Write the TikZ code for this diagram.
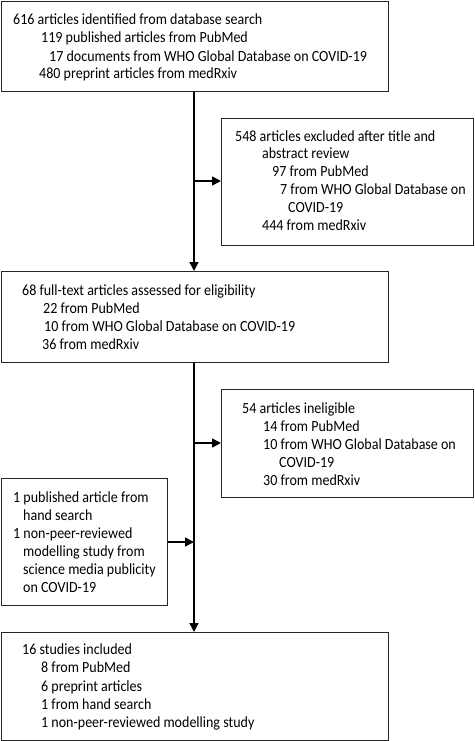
\documentclass[tikz,border=0pt]{standalone}
\usepackage{fontspec}
\setmainfont[FakeStretch=0.905]{Carlito}
\usetikzlibrary{arrows.meta}
\begin{document}
\begin{tikzpicture}[x=1pt,y=-1pt,
  box/.style={draw=black!85, line width=1.3pt, inner sep=0, anchor=north west},
  txt/.style={anchor=base west, inner sep=0, font=\fontsize{15.5}{17}\selectfont},
  conn/.style={line width=1.5pt, -{Triangle[length=9pt,width=9pt]}},
  plain/.style={line width=1.5pt}]
\useasboundingbox (0,0) rectangle (474,741);
% boxes
\node[box, minimum width=387pt, minimum height=90pt] (b1) at (1,1) {};
\node[box, minimum width=252pt, minimum height=127pt] (b2) at (221,118) {};
\node[box, minimum width=387pt, minimum height=91pt] (b3) at (1,271) {};
\node[box, minimum width=252pt, minimum height=108pt] (b4) at (221,389) {};
\node[box, minimum width=166pt, minimum height=127pt] (b5) at (1,478) {};
\node[box, minimum width=387pt, minimum height=108pt] (b6) at (1,632) {};
% texts box 1
\node[txt] (t11) at (13,25) {616 articles identified from database search};
\node[txt] (t12) at (41,43) {119 published articles from PubMed};
\node[txt] (t13) at (49,62) {17 documents from WHO Global Database on COVID-19};
\node[txt] (t14) at (39,79) {480 preprint articles from medRxiv};
% box 2
\node[txt] (t21) at (235,141) {548 articles excluded after title and};
\node[txt] (t22) at (262,158) {abstract review};
\node[txt] (t23) at (272,176) {97 from PubMed};
\node[txt] (t24) at (280,194) {7 from WHO Global Database on};
\node[txt] (t25) at (288,212) {COVID-19};
\node[txt] (t26) at (262,230) {444 from medRxiv};
% box 3
\node[txt] (t31) at (22,295) {68 full-text articles assessed for eligibility};
\node[txt] (t32) at (43,313) {22 from PubMed};
\node[txt] (t33) at (44,331) {10 from WHO Global Database on COVID-19};
\node[txt] (t34) at (42,349) {36 from medRxiv};
% box 4
\node[txt] (t41) at (242,413) {54 articles ineligible};
\node[txt] (t42) at (263,431) {14 from PubMed};
\node[txt] (t43) at (263,449) {10 from WHO Global Database on};
\node[txt] (t44) at (279,467) {COVID-19};
\node[txt] (t45) at (263,485) {30 from medRxiv};
% box 5
\node[txt] (t51) at (13,502) {1 published article from};
\node[txt] (t52) at (23,520) {hand search};
\node[txt] (t53) at (13,538) {1 non-peer-reviewed};
\node[txt] (t54) at (23,556) {modelling study from};
\node[txt] (t55) at (23,574) {science media publicity};
\node[txt] (t56) at (23,592) {on COVID-19};
% box 6
\node[txt] (t61) at (22,654) {16 studies included};
\node[txt] (t62) at (41,672) {8 from PubMed};
\node[txt] (t63) at (41,691) {6 preprint articles};
\node[txt] (t64) at (41,709) {1 from hand search};
\node[txt] (t65) at (41,727) {1 non-peer-reviewed modelling study};
% connectors
\coordinate (j1) at (194,181);
\coordinate (j2) at (194,443);
\coordinate (j3) at (194,542);
\draw[conn] (b1.south -| j1) -- (b3.north -| j1);
\draw[conn] (b3.south -| j1) -- (b6.north -| j1);
\draw[conn] (j1) -- (j1 -| b2.west);
\draw[conn] (j2) -- (j2 -| b4.west);
\draw[conn] (j3 -| b5.east) -- (j3);
\end{tikzpicture}
\end{document}
